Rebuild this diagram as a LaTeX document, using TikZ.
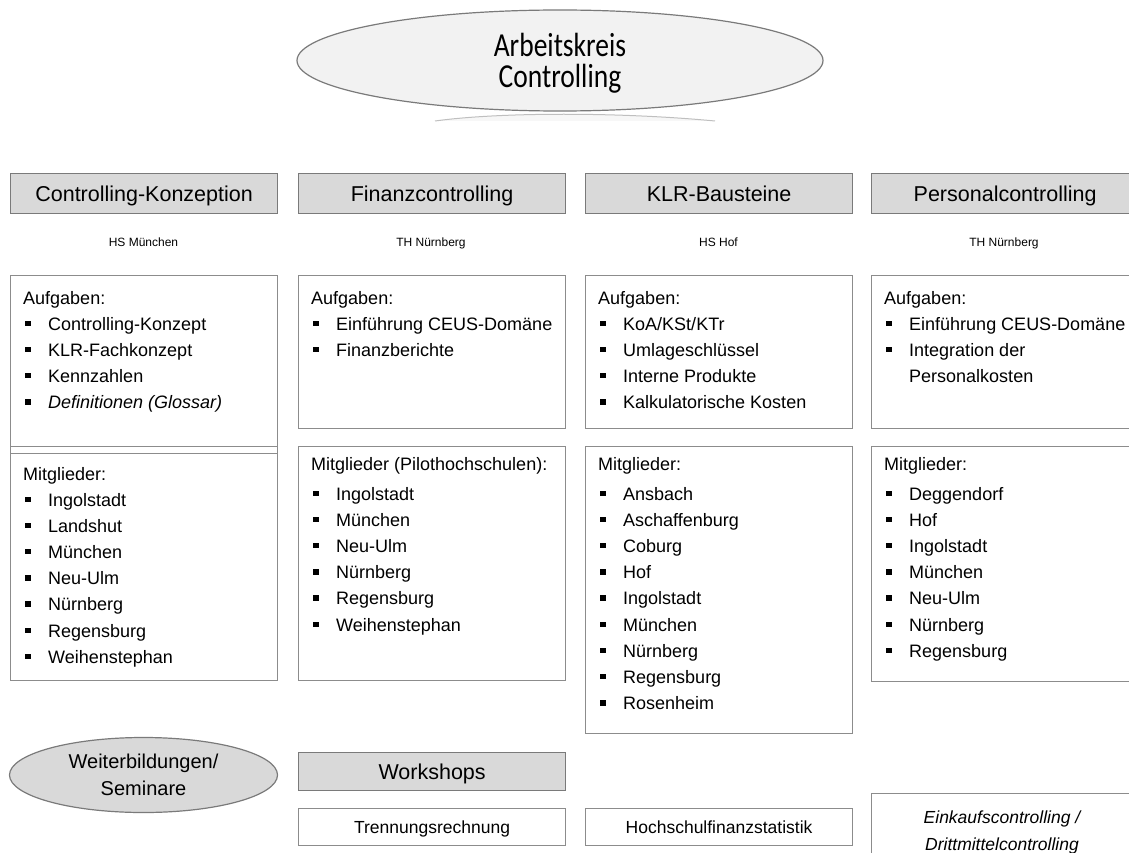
\documentclass[tikz,border=0pt]{standalone}
\usepackage{fontspec}
\setmainfont{Liberation Sans}
\newfontfamily\calibrifont{Carlito}
\usetikzlibrary{shapes.geometric}
\definecolor{hdrfill}{HTML}{D9D9D9}
\definecolor{ellfill}{HTML}{F2F2F2}
\definecolor{edgegray}{HTML}{8C8C8C}
\definecolor{darkedge}{HTML}{7A7A7A}
\newcommand\blt{\makebox[23pt][l]{\rule[4pt]{5.5pt}{5.5pt}}}
\newcommand\itemlist[4]{%
  \foreach \itm [count=\i] in {#4} {%
    \node[listline] (#1-\i) at (#2,{#3+26.2*(\i-1)}) {\blt\itm};}}
\newcommand\tallttl[1]{\scalebox{1}[1.22]{#1}}
\begin{document}
\begin{tikzpicture}[x=1pt,y=-1pt,
  box/.style={draw=edgegray,line width=1.1pt,fill=white,anchor=north west,inner sep=0pt},
  hdr/.style={draw=darkedge,line width=1.2pt,fill=hdrfill,anchor=north west,inner sep=0pt,
              minimum width=267pt,minimum height=40pt,font=\fontsize{21.5}{24}\selectfont,
              text height=19pt,text depth=3.6pt},
  smallbox/.style={box,minimum width=267pt,minimum height=37pt,font=\fontsize{17.5}{20}\selectfont,
              text height=15pt,text depth=2.5pt},
  listline/.style={anchor=base west,inner sep=0pt,font=\fontsize{18}{22}\selectfont},
  subt/.style={anchor=base,inner sep=0pt,font=\fontsize{12}{14}\selectfont},
  smalltxt/.style={anchor=base,inner sep=0pt,font=\itshape\fontsize{17.5}{20}\selectfont},
  titletxt/.style={anchor=base,inner sep=0pt,font=\calibrifont\fontsize{27.5}{33}\selectfont},
  ovaltxt/.style={anchor=base,inner sep=0pt,font=\fontsize{20}{24}\selectfont}]
\useasboundingbox (0,0) rectangle (1129,853);
\clip (0,0) rectangle (1129,853);

% top ellipse and reflection
\fill[ellfill!60!white] (435,121) .. controls (500,112) and (620,112) .. (715,121) -- cycle;
\draw[gray!50,line width=1pt] (435,121) .. controls (500,112) and (620,112) .. (715,121);
\node[ellipse,draw=darkedge,line width=1.2pt,fill=ellfill,minimum width=526pt,minimum height=101pt,inner sep=0pt] (ak) at (560,60.5) {};
\node[titletxt] (akt1) at (560,57) {\tallttl{Arbeitskreis}};
\node[titletxt] (akt2) at (560,88) {\tallttl{Controlling}};

% headers
\node[hdr] (h1) at (10,173) {Controlling-Konzeption};
\node[hdr] (h2) at (298,173) {Finanzcontrolling};
\node[hdr] (h3) at (585,173) {KLR-Bausteine};
\node[hdr] (h4) at (871,173) {Personalcontrolling};

\node[subt] (s1) at (143.5,246.3) {HS München};
\node[subt] (s2) at (431,246.3) {TH Nürnberg};
\node[subt] (s3) at (718.5,246.3) {HS Hof};
\node[subt] (s4) at (1004,246.3) {TH Nürnberg};

% column 1
\node[box,minimum width=267pt,minimum height=177pt] (b1a) at (10,275) {};
\node[box,minimum width=267pt,minimum height=234pt] (b1m) at (10,446) {};
\draw[edgegray,line width=1.1pt] (b1a.south west) -- (b1a.south east);
\node[listline] (l1a) at (23,304) {Aufgaben:};
\itemlist{i1a}{25}{330}{Controlling-Konzept,KLR-Fachkonzept,Kennzahlen,{\itshape Definitionen (Glossar)}}
\node[listline] (l1m) at (23,480) {Mitglieder:};
\itemlist{i1m}{25}{506}{Ingolstadt,Landshut,München,Neu-Ulm,Nürnberg,Regensburg,Weihenstephan}

% column 2
\node[box,minimum width=267pt,minimum height=153pt] (b2a) at (298,275) {};
\node[box,minimum width=267pt,minimum height=234pt] (b2m) at (298,446) {};
\node[listline] (l2a) at (311,304) {Aufgaben:};
\itemlist{i2a}{313}{330}{Einführung CEUS-Domäne,Finanzberichte}
\node[listline] (l2m) at (311,470) {Mitglieder (Pilothochschulen):};
\itemlist{i2m}{313}{500}{Ingolstadt,München,Neu-Ulm,Nürnberg,Regensburg,Weihenstephan}

% column 3
\node[box,minimum width=267pt,minimum height=153pt] (b3a) at (585,275) {};
\node[box,minimum width=267pt,minimum height=287pt] (b3m) at (585,446) {};
\node[listline] (l3a) at (598,304) {Aufgaben:};
\itemlist{i3a}{600}{330}{KoA/KSt/KTr,Umlageschlüssel,Interne Produkte,Kalkulatorische Kosten}
\node[listline] (l3m) at (598,470) {Mitglieder:};
\itemlist{i3m}{600}{500}{Ansbach,Aschaffenburg,Coburg,Hof,Ingolstadt,München,Nürnberg,Regensburg,Rosenheim}

% column 4
\node[box,minimum width=267pt,minimum height=153pt] (b4a) at (871,275) {};
\node[box,minimum width=267pt,minimum height=235pt] (b4m) at (871,446) {};
\node[listline] (l4a) at (884,304) {Aufgaben:};
\itemlist{i4a}{886}{330}{Einführung CEUS-Domäne,Integration der}
\node[listline] (l4a3) at (909,382.4) {Personalkosten};
\node[listline] (l4m) at (884,470) {Mitglieder:};
\itemlist{i4m}{886}{500}{Deggendorf,Hof,Ingolstadt,München,Neu-Ulm,Nürnberg,Regensburg}

% bottom row
\node[ellipse,draw=darkedge,line width=1.2pt,fill=hdrfill,minimum width=268pt,minimum height=75pt,inner sep=0pt] (wb) at (143.5,775) {};
\node[ovaltxt] (wbt1) at (143.5,768) {Weiterbildungen/};
\node[ovaltxt] (wbt2) at (143.5,795) {Seminare};
\node[hdr,minimum height=38pt] (ws) at (298,752) {Workshops};
\node[smallbox] (tr) at (298,808) {Trennungsrechnung};
\node[smallbox] (hf) at (585,808) {Hochschulfinanzstatistik};
\node[box,minimum width=267pt,minimum height=75pt] (ek) at (871,793) {};
\node[smalltxt] (ek1) at (1002,823) {Einkaufscontrolling /};
\node[smalltxt] (ek2) at (1002,850) {Drittmittelcontrolling};
\end{tikzpicture}
\end{document}
